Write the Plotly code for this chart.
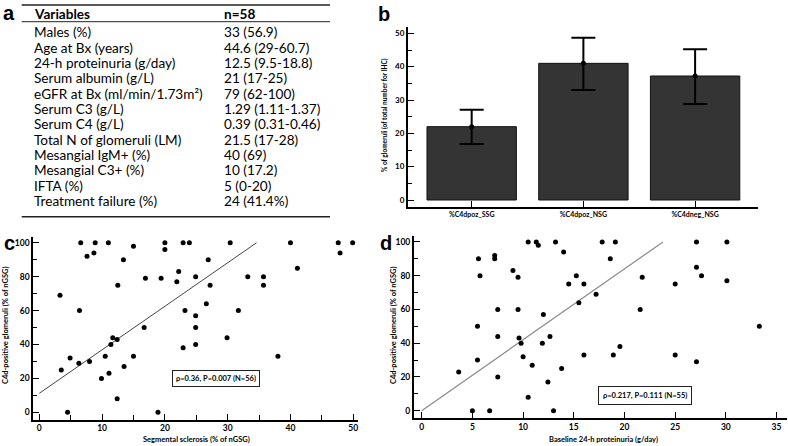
# Composite figure: baseline table (a), C4d bar chart (b), two scatter plots (c, d)

import plotly.graph_objects as go

W, H = 788, 446

# ---- panel a: table ----
table_vars = ["Males (%)", "Age at Bx (years)", "24-h proteinuria (g/day)", "Serum albumin (g/L)",
              "eGFR at Bx (ml/min/1.73m\u00b2)", "Serum C3 (g/L)", "Serum C4 (g/L)",
              "Total N of glomeruli (LM)", "Mesangial IgM+ (%)", "Mesangial C3+ (%)", "IFTA (%)",
              "Treatment failure (%)"]
table_vals = ["33 (56.9)", "44.6 (29-60.7)", "12.5 (9.5-18.8)", "21 (17-25)", "79 (62-100)",
              "1.29 (1.11-1.37)", "0.39 (0.31-0.46)", "21.5 (17-28)", "40 (69)", "10 (17.2)",
              "5 (0-20)", "24 (41.4%)"]

# ---- panel b: bars ----
bar_cats = ["%C4dpoz_SSG", "%C4dpoz_NSG", "%C4dneg_NSG"]
bar_means = [22, 41, 37.2]
bar_err_hi = [27.1, 48.7, 45.2]
bar_err_lo = [16.8, 33, 28.8]

# ---- panel c: segmental sclerosis vs C4d ----
c_x = [3.3, 3.5, 4.5, 4.9, 6.3, 6.4, 6.6, 7.6, 8.0, 8.7, 8.9, 9.9, 10.5, 11.0, 11.1, 11.4, 11.7,
       12.4, 12.5, 12.4, 13.4, 13.5, 15.0, 15.0, 16.7, 16.9, 18.9, 19.4, 20.0, 20.0, 21.9, 22.2,
       22.9, 22.9, 23.2, 23.9, 24.9, 24.9, 24.9, 24.9, 26.6, 26.9, 27.2, 29.9, 30.4, 31.7, 33.2,
       35.7, 35.7, 38.0, 40.0, 41.1, 47.6, 47.9, 49.9]
c_y = [69, 25, 0, 32, 29, 60, 100, 92, 30, 94, 100, 20, 33, 100, 23, 40, 44,
       43, 75, 8, 90, 27, 33, 98, 50, 79, 0, 79, 100, 96, 77, 83,
       38, 100, 60, 100, 80, 57, 50, 40, 64, 90, 75, 44, 100, 60, 80,
       80, 75, 33, 100, 85, 100, 94, 100]
c_fit_x = [0, 34.6]
c_fit_y = [11.2, 100]

# ---- panel d: proteinuria vs C4d ----
d_x = [3.65, 5.0, 5.5, 5.5, 5.6, 5.75, 6.7, 7.2, 7.2, 7.5, 7.5, 7.5, 9.0, 9.5, 9.5, 9.6, 9.8,
       10.0, 10.5, 10.5, 10.9, 11.3, 11.5, 11.9, 12.0, 12.45, 12.65, 13.0, 13.2, 13.8, 14.0,
       14.5, 15.25, 15.5, 16.0, 16.0, 17.2, 17.8, 18.6, 18.9, 19.1, 19.55, 21.55, 21.75, 25.0,
       25.0, 27.1, 27.1, 27.1, 27.6, 30.1, 30.1, 33.3]
d_y = [23, 0, 50, 30, 90, 80, 0, 92, 90, 60, 44, 20, 83, 79, 60, 43, 40,
       32, 100, 8, 27, 100, 98, 40, 57, 17, 44, 0, 100, 25, 94,
       75, 80, 64, 75, 33, 69, 100, 90, 33, 100, 38, 60, 79, 75,
       33, 100, 85, 29, 80, 100, 77, 50]
d_fit_x = [0, 23.8]
d_fit_y = [0, 100]


def px(x):
    return x / W


def py(y):
    return 1 - y / H


fig = go.Figure()

fig.add_trace(go.Bar(x=bar_cats, y=bar_means, width=0.8,
                     marker=dict(color="#343434", line=dict(color="#111", width=1)),
                     error_y=dict(type="data", symmetric=False,
                                  array=[h - m for h, m in zip(bar_err_hi, bar_means)],
                                  arrayminus=[m - l for m, l in zip(bar_means, bar_err_lo)],
                                  color="black", thickness=2, width=12),
                     xaxis="x", yaxis="y"))
fig.add_trace(go.Scatter(x=bar_cats, y=bar_means, mode="markers",
                         marker=dict(color="black", size=5), xaxis="x", yaxis="y"))

fig.add_trace(go.Scatter(x=c_fit_x, y=c_fit_y, mode="lines", line=dict(color="#444", width=1),
                         xaxis="x2", yaxis="y2"))
fig.add_trace(go.Scatter(x=c_x, y=c_y, mode="markers", marker=dict(color="black", size=5),
                         xaxis="x2", yaxis="y2"))

fig.add_trace(go.Scatter(x=d_fit_x, y=d_fit_y, mode="lines", line=dict(color="#8a8a8a", width=1.2),
                         xaxis="x3", yaxis="y3"))
fig.add_trace(go.Scatter(x=d_x, y=d_y, mode="markers", marker=dict(color="black", size=5),
                         xaxis="x3", yaxis="y3"))

tickfont = dict(family="Lato", size=8.5, color="black", weight="bold")
ax_common = dict(showline=True, linecolor="black", linewidth=2, ticks="inside", ticklen=6,
                 tickcolor="black", tickwidth=1, showgrid=False, zeroline=False, tickfont=tickfont)

fig.update_layout(
    width=W, height=H, margin=dict(l=0, r=0, t=0, b=0),
    paper_bgcolor="white", plot_bgcolor="white", showlegend=False,
    xaxis=dict(ax_common, domain=[px(408), px(758)], anchor="y", type="category",
               range=[-0.57, 2.563], tickfont=dict(tickfont, size=7)),
    yaxis=dict(ax_common, domain=[py(207), py(27)], anchor="x", range=[-2.1, 51.9],
               tickvals=[0, 10, 20, 30, 40, 50], tickfont=dict(tickfont, size=8),
               minor=dict(tickvals=[5, 15, 25, 35, 45], ticks="inside", ticklen=4, tickcolor="black")),
    xaxis2=dict(ax_common, domain=[px(33.3), px(358.3)], anchor="y2", range=[-0.955, 50.8],
                tickvals=[0, 10, 20, 30, 40, 50], ticklabelstandoff=-1,
                minor=dict(tickvals=[5, 15, 25, 35, 45], ticks="inside", ticklen=5, tickcolor="black")),
    yaxis2=dict(ax_common, domain=[py(420), py(236.8)], anchor="x2", range=[-4.54, 103.5],
                tickvals=[0, 20, 40, 60, 80, 100],
                minor=dict(tickvals=[10, 30, 50, 70, 90], ticks="inside", ticklen=4, tickcolor="black")),
    xaxis3=dict(ax_common, domain=[px(414), px(786.7)], anchor="y3", range=[-0.76, 36],
                tickvals=[0, 5, 10, 15, 20, 25, 30, 35], ticklabelstandoff=-1),
    yaxis3=dict(ax_common, domain=[py(418.3), py(236)], anchor="x3", range=[-4.5, 103.5],
                tickvals=[0, 20, 40, 60, 80, 100],
                minor=dict(tickvals=[10, 30, 50, 70, 90], ticks="inside", ticklen=4, tickcolor="black")),
)

ann = []
tfont = dict(family="Lato", size=13.6, color="black")
# table header and rows
ann.append(dict(x=px(31.7), y=py(14.3), text="<b>Variables</b>", xanchor="left", yanchor="middle",
                font=tfont))
ann.append(dict(x=px(221.7), y=py(14.3), text="<b>n=58</b>", xanchor="left", yanchor="middle",
                font=tfont))
for i, (v, n) in enumerate(zip(table_vars, table_vals)):
    yy = 32.3 + i * 15.34
    ann.append(dict(x=px(31.7), y=py(yy), text=v, xanchor="left", yanchor="middle", font=tfont))
    ann.append(dict(x=px(221.7), y=py(yy), text=n, xanchor="left", yanchor="middle", font=tfont))

# panel letters
letter_font = dict(family="Liberation Sans", size=20, color="black", weight="bold")
for t, x, y in [("a", 9, 0), ("b", 384, 1), ("c", 9, 230), ("d", 386, 230)]:
    ann.append(dict(x=px(x), y=py(y), text=t, xanchor="center", yanchor="top", font=letter_font))

lab_font = dict(family="Lato", size=7.5, color="black", weight="bold")
ann.append(dict(x=px(385), y=py(115), text="% of glomeruli (of total number for IHC)", textangle=-90,
                xanchor="center", yanchor="middle", font=dict(lab_font, size=6.5)))
ann.append(dict(x=px(5), y=py(325), text="C4d-positive glomeruli (% of nGSG)", textangle=-90,
                xanchor="center", yanchor="middle", font=lab_font))
ann.append(dict(x=px(393), y=py(325), text="C4d-positive glomeruli (% of nGSG)", textangle=-90,
                xanchor="center", yanchor="middle", font=lab_font))
ann.append(dict(x=px(196.7), y=py(439.5), text="Segmental sclerosis (% of nGSG)",
                xanchor="center", yanchor="middle", font=lab_font))
ann.append(dict(x=px(603), y=py(439.5), text="Baseline 24-h proteinuria (g/day)",
                xanchor="center", yanchor="middle", font=lab_font))

box_font = dict(family="Lato", size=7.5, color="black", weight="bold")
ann.append(dict(x=px(216.3), y=py(378.8), text="\u03c1=0.36, P=0.007 (N=56)", showarrow=False,
                xanchor="center", yanchor="middle", font=box_font, bordercolor="#222",
                borderwidth=1, borderpad=3, bgcolor="white"))
ann.append(dict(x=px(645), y=py(395), text="\u03c1=0.217, P=0.111 (N=55)", showarrow=False,
                xanchor="center", yanchor="middle", font=box_font, bordercolor="#222",
                borderwidth=1, borderpad=4, bgcolor="white"))

for a in ann:
    a.setdefault("showarrow", False)
    a["xref"] = "paper"
    a["yref"] = "paper"
fig.update_layout(annotations=ann)

# table rules
for yy, w in [(5, 1.5), (21.7, 1), (216.7, 1.5)]:
    fig.add_shape(type="line", xref="paper", yref="paper", x0=px(21.7), x1=px(330),
                  y0=py(yy), y1=py(yy), line=dict(color="#222", width=w))

# drop the browser's default body margin so the figure sits at the page corner
fig.write_html("out.html", config={"displayModeBar": False},
               post_script="document.body.style.margin='0';")
